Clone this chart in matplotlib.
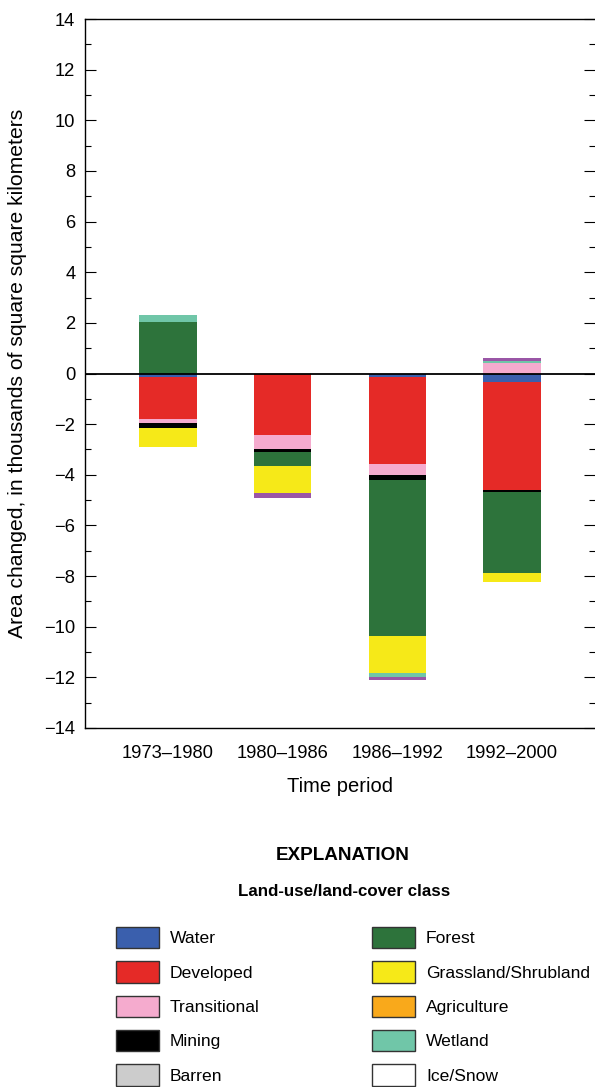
import numpy as np
import matplotlib
matplotlib.use('Agg')
import matplotlib.pyplot as plt
from matplotlib.patches import Patch
from matplotlib.ticker import MultipleLocator

plt.rcParams['font.family'] = ['Liberation Sans', 'DejaVu Sans']

# change in area per period, thousands of km2
periods = ['1973\u20131980', '1980\u20131986', '1986\u20131992', '1992\u20132000']
water = [-0.15, 0.0, -0.14, -0.32]
developed = [-1.63, -2.42, -3.45, -4.27]
transitional = [-0.16, -0.55, -0.40, 0.40]
mining = [-0.20, -0.12, -0.20, -0.08]
barren = [0.0, 0.0, 0.0, 0.0]
forest = [2.05, -0.55, -6.17, -3.20]
grassland = [-0.75, -1.07, -1.46, -0.36]
agriculture = [0.0, 0.0, 0.0, 0.0]
wetland = [0.28, 0.0, -0.16, 0.08]
ice_snow = [0.0, 0.0, 0.0, 0.0]
mech_disturbed = [0.0, -0.20, -0.12, 0.12]

classes = ['Water', 'Developed', 'Transitional', 'Mining', 'Barren',
           'Forest', 'Grassland/Shrubland', 'Agriculture', 'Wetland',
           'Ice/Snow', 'Mechanically disturbed']
series = [water, developed, transitional, mining, barren, forest,
          grassland, agriculture, wetland, ice_snow, mech_disturbed]
colors = ['#3a5fad', '#e52a27', '#f5abce', '#000000', '#cccccc',
          '#2d733b', '#f6e918', '#f9a91b', '#70c6a8', '#ffffff', '#9a56a6']

fig = plt.figure(figsize=(5.95, 10.87), dpi=100)
ax = fig.add_axes([85 / 595, 1 - 728 / 1087, 1 - 85 / 595, (728 - 19) / 1087])

x = np.arange(len(periods))
pos_base = np.zeros(len(periods))
neg_base = np.zeros(len(periods))
for vals, col in zip(series, colors):
    v = np.array(vals)
    pos = np.where(v > 0, v, 0)
    neg = np.where(v < 0, v, 0)
    ax.bar(x, pos, 0.5, bottom=pos_base, color=col, linewidth=0)
    ax.bar(x, neg, 0.5, bottom=neg_base, color=col, linewidth=0)
    pos_base += pos
    neg_base += neg

ax.axhline(0, color='black', lw=1.3, zorder=5)

ax.set_ylim(-14, 14)
ax.set_xlim(-0.724, 3.723)
ax.yaxis.set_major_locator(MultipleLocator(2))
ax.yaxis.set_minor_locator(MultipleLocator(1))
ax.set_yticks(np.arange(-14, 15, 2))
ax.set_yticklabels([('\u2212' + str(abs(t))) if t < 0 else str(t) for t in range(-14, 15, 2)])
ax.tick_params(axis='y', which='both', direction='in', right=True, width=0.8,
               labelsize=13.2, pad=7)
ax.tick_params(axis='y', which='major', length=8)
ax.tick_params(axis='y', which='minor', length=4.3)
ax.set_xticks(x)
ax.set_xticklabels(periods)
ax.tick_params(axis='x', length=0, labelsize=13.2, pad=12)
ax.spines['right'].set_visible(False)
for s in ['left', 'top', 'bottom']:
    ax.spines[s].set_linewidth(1.0)

ax.set_xlabel('Time period', fontsize=14.5, labelpad=11)
ax.set_ylabel('Area changed, in thousands of square square kilometers',
              fontsize=15.2)
ax.yaxis.set_label_coords(-0.113, 0.5)

fig.text(343 / 595, 1 - 855 / 1087, 'EXPLANATION', fontsize=13.6,
         fontweight='bold', ha='center', va='center')
fig.text(344 / 595, 1 - 892 / 1087, 'Land-use/land-cover class', fontsize=12.2,
         fontweight='bold', ha='center', va='center')

handles = [Patch(facecolor=c, edgecolor='#333333', linewidth=1.0, label=n)
           for n, c in zip(classes[:10], colors[:10])]
leg_kw = dict(frameon=False, fontsize=12.6, handlelength=2.48, handleheight=1.5,
              handletextpad=0.6, labelspacing=0.74, borderpad=0, borderaxespad=0,
              loc='upper left')
fig.legend(handles=handles[:5], bbox_to_anchor=(116 / 595, 1 - 927 / 1087), **leg_kw)
fig.legend(handles=handles[5:], bbox_to_anchor=(372 / 595, 1 - 927 / 1087), **leg_kw)

fig.savefig('out.png', dpi=100)
